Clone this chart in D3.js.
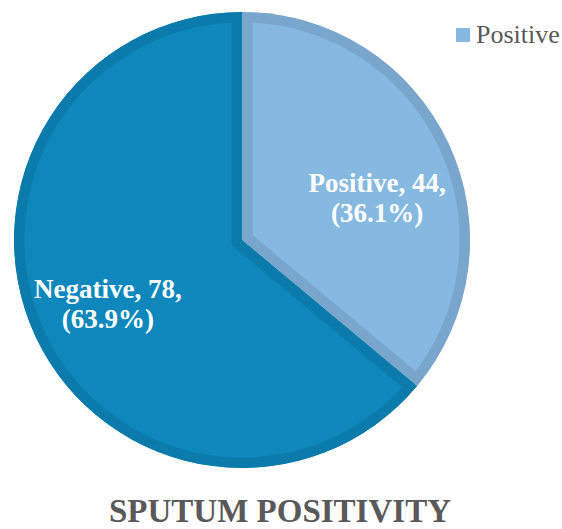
<!DOCTYPE html>
<html lang="en">
<head>
    <meta charset="UTF-8">
    <title>Sputum positivity</title>
    <script src="https://d3js.org/d3.v7.min.js"></script>
    <style>
        body {
            margin: 0;
            background: #fff;
        }
        svg text {
            font-family: "Liberation Serif", "Times New Roman", Times, "DejaVu Serif", serif;
        }
        .label {
            font-weight: bold;
            font-size: 27px;
            fill: white;
            text-anchor: middle;
        }
        .title {
            font-weight: bold;
            font-size: 33px;
            fill: #595959;
            text-anchor: middle;
        }
        .legend-text {
            font-size: 26px;
            fill: #595959;
        }
    </style>
</head>
<body>
    <div id="chart"></div>
    <script>
        const categories = ["Positive", "Negative"];
        const counts = [44, 78];
        const percents = ["36.1%", "63.9%"];
        const legendItems = ["Positive"];

        const width = 562;
        const height = 529;
        const cx = 242, cy = 240;
        const radius = 228;

        const fills = ["#86B9E0", "#0E88BC"];
        const borders = ["#79A6CC", "#0B7BAB"];

        const svg = d3.select("#chart")
            .append("svg")
            .attr("width", width)
            .attr("height", height);

        const g = svg.append("g")
            .attr("transform", `translate(${cx}, ${cy})`);

        const pie = d3.pie().sort(null).value(d => d);
        const arcs = pie(counts);
        const arc = d3.arc().innerRadius(0).outerRadius(radius);

        // clip each slice so the thick border only shows on the inside
        const defs = svg.append("defs");
        arcs.forEach((a, i) => {
            defs.append("clipPath")
                .attr("id", "clip" + i)
                .append("path")
                .attr("d", arc(a));
        });

        g.selectAll("path.slice")
            .data(arcs)
            .enter()
            .append("path")
            .attr("class", "slice")
            .attr("d", arc)
            .attr("clip-path", (d, i) => `url(#clip${i})`)
            .attr("fill", (d, i) => fills[i])
            .attr("stroke", (d, i) => borders[i])
            .attr("stroke-width", 21)
            .attr("stroke-linejoin", "miter");

        // labels
        const labelArc = d3.arc().innerRadius(148).outerRadius(148);
        const nudge = [[1, 20], [0, 0]];
        const labels = g.selectAll("text.label")
            .data(arcs)
            .enter()
            .append("text")
            .attr("class", "label")
            .attr("transform", (d, i) => {
                const c = labelArc.centroid(d);
                return `translate(${c[0] + nudge[i][0]}, ${c[1] + nudge[i][1]})`;
            });
        labels.append("tspan")
            .attr("x", 0)
            .attr("y", -5)
            .text((d, i) => `${categories[i]}, ${counts[i]},`);
        labels.append("tspan")
            .attr("x", 0)
            .attr("y", 25)
            .text((d, i) => `(${percents[i]})`);

        // legend
        const legend = svg.append("g").attr("transform", "translate(456, 28)");
        legend.selectAll("rect")
            .data(legendItems)
            .enter()
            .append("rect")
            .attr("width", 14)
            .attr("height", 14)
            .attr("fill", (d, i) => fills[i]);
        legend.selectAll("text")
            .data(legendItems)
            .enter()
            .append("text")
            .attr("class", "legend-text")
            .attr("x", 20)
            .attr("y", 15)
            .text(d => d);

        // title
        svg.append("text")
            .attr("class", "title")
            .attr("x", 280)
            .attr("y", 522)
            .text("SPUTUM POSITIVITY");
    </script>
</body>
</html>
